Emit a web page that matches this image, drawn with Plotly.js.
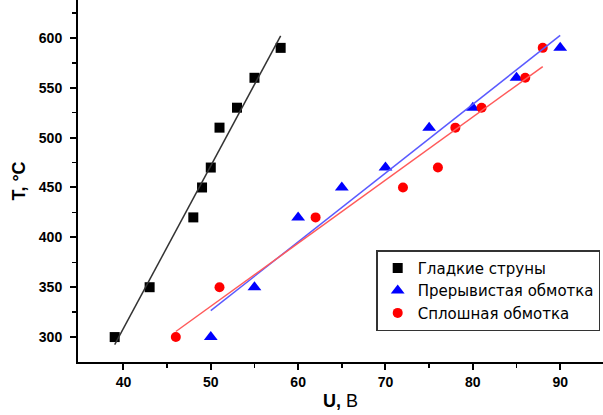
<!DOCTYPE html>
<html>
<head>
<meta charset="utf-8">
<script src="https://cdn.plot.ly/plotly-3.0.1.min.js"></script>
<style>html,body{margin:0;padding:0;background:#fff;}#chart{width:603px;height:415px;}</style>
</head>
<body>
<div id="chart"></div>
<script>
const seriesNames = ["Гладкие струны", "Прерывистая обмотка", "Сплошная обмотка"];
const smoothU = [39, 43, 48, 49, 50, 51, 53, 55, 58];
const smoothT = [300, 350, 420, 450, 470, 510, 530, 560, 590];
const brokenU = [50, 55, 60, 65, 70, 75, 80, 85, 90];
const brokenT = [300, 350, 420, 450, 470, 510, 530, 560, 590];
const solidU = [46, 51, 62, 72, 76, 78, 81, 86, 88];
const solidT = [300, 350, 420, 450, 470, 510, 530, 560, 590];
const xTicks = [40, 50, 60, 70, 80, 90];
const yTicks = [300, 350, 400, 450, 500, 550, 600];

function fit(xs, ys) {
  const n = xs.length;
  const mx = xs.reduce((a, b) => a + b, 0) / n;
  const my = ys.reduce((a, b) => a + b, 0) / n;
  let sxy = 0, sxx = 0;
  for (let i = 0; i < n; i++) { sxy += (xs[i] - mx) * (ys[i] - my); sxx += (xs[i] - mx) ** 2; }
  const k = sxy / sxx, b = my - k * mx;
  const x0 = Math.min(...xs), x1 = Math.max(...xs);
  return { x: [x0, x1], y: [k * x0 + b, k * x1 + b] };
}

const f1 = fit(smoothU, smoothT), f2 = fit(brokenU, brokenT), f3 = fit(solidU, solidT);

const traces = [
  { x: smoothU, y: smoothT, name: seriesNames[0], mode: 'markers', marker: { symbol: 'square', size: 10, color: '#000000' } },
  { x: brokenU, y: brokenT, name: seriesNames[1], mode: 'markers', marker: { symbol: 'triangle-up', size: 12, color: '#0000ff' } },
  { x: solidU, y: solidT, name: seriesNames[2], mode: 'markers', marker: { symbol: 'circle', size: 10, color: '#ff0000' } },
  { x: f1.x, y: f1.y, mode: 'lines', line: { color: '#333333', width: 1.5 }, showlegend: false, hoverinfo: 'skip' },
  { x: f2.x, y: f2.y, mode: 'lines', line: { color: '#5a5aff', width: 1.5 }, showlegend: false, hoverinfo: 'skip' },
  { x: f3.x, y: f3.y, mode: 'lines', line: { color: '#ff5a5a', width: 1.5 }, showlegend: false, hoverinfo: 'skip' }
];

const tickFont = { family: 'Liberation Sans, Arial, sans-serif', size: 14, color: '#000', weight: 'bold' };

const layout = {
  width: 603, height: 415,
  margin: { l: 78, r: 0, t: 0, b: 53, autoexpand: false },
  paper_bgcolor: '#fff', plot_bgcolor: '#fff',
  font: { family: 'Liberation Sans, Arial, sans-serif', color: '#000' },
  xaxis: {
    range: [34.8, 94.9], tickvals: xTicks, ticktext: xTicks.map(String),
    showgrid: false, zeroline: false, showline: true, linecolor: '#000', linewidth: 2,
    ticks: 'outside', ticklen: 6, tickwidth: 2, tickcolor: '#000',
    minor: { tickvals: [45, 55, 65, 75, 85], ticks: 'outside', ticklen: 4, tickwidth: 1.5, tickcolor: '#000', showgrid: false },
    tickfont: tickFont, automargin: false,
    title: { text: '<b>U,</b> B', font: { size: 18, color: '#000' }, standoff: 6 }
  },
  yaxis: {
    range: [275, 638], tickvals: yTicks, ticktext: yTicks.map(String),
    showgrid: false, zeroline: false, showline: true, linecolor: '#000', linewidth: 2,
    ticks: 'outside', ticklen: 6, tickwidth: 2, tickcolor: '#000', ticklabelstandoff: 5,
    minor: { tickvals: [325, 375, 425, 475, 525, 575, 625], ticks: 'outside', ticklen: 4, tickwidth: 1.5, tickcolor: '#000', showgrid: false },
    tickfont: tickFont, automargin: false,
    title: { text: '<b>T, °C</b>', font: { size: 18, color: '#000' }, standoff: 9 }
  },
  legend: {
    x: 0.568, y: 0.309, xanchor: 'left', yanchor: 'top',
    bordercolor: '#333', borderwidth: 1.5, bgcolor: '#fff',
    font: { family: 'DejaVu Sans, sans-serif', size: 15, color: '#000' }, tracegroupgap: 0, itemwidth: 30,
    traceorder: 'normal'
  },
  showlegend: true
};

Plotly.newPlot('chart', traces, layout, { displayModeBar: false, staticPlot: true });
</script>
</body>
</html>
